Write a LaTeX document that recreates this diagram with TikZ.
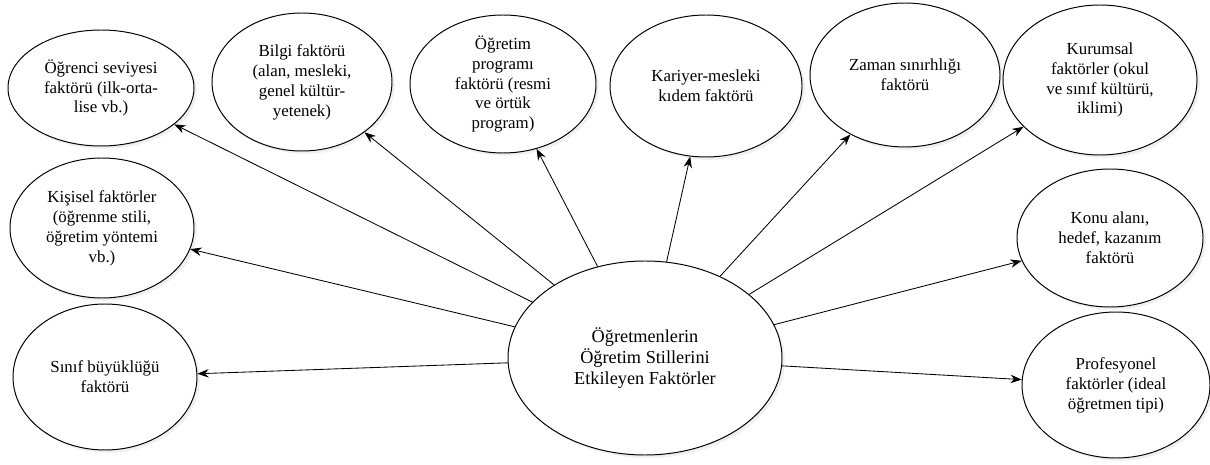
\documentclass[tikz,border=0pt]{standalone}
\usepackage{fontspec}
\setmainfont{Liberation Serif}
\newfontfamily\facfont{Liberation Serif}
\usepackage{tikz}
\usetikzlibrary{shapes,positioning,shadows,arrows.meta}
\tikzset{fac/.style={ellipse,draw,line width=0.7pt,fill=white,inner sep=0pt,align=center,
    font=\facfont\fontsize{12}{14.2}\selectfont,drop shadow={opacity=0.12,shadow xshift=2pt,shadow yshift=-2pt}}}
\tikzset{hub/.style={fac,font=\facfont\fontsize{13}{15}\selectfont}}

\begin{document}
\begin{tikzpicture}[>={Stealth[length=8pt,width=6pt]}]
    \useasboundingbox (0,0) rectangle (30.25,11.6);

    \node[fac,minimum width=4.65cm,minimum height=2.9cm] (ogr) at (2.525,9.4) {Öğrenci seviyesi\\faktörü (ilk-orta-\\lise vb.)};
    \node[fac,minimum width=4.5cm,minimum height=3.45cm] (bilgi) at (7.55,9.55) {Bilgi faktörü\\(alan, mesleki,\\genel kültür-\\yetenek)};
    \node[fac,minimum width=4.65cm,minimum height=3.45cm] (prog) at (12.575,9.5) {Öğretim\\programı\\faktörü (resmi\\ve örtük\\program)};
    \node[fac,minimum width=4.8cm,minimum height=3.55cm] (kariyer) at (17.65,9.45) {Kariyer-mesleki\\kıdem faktörü};
    \node[fac,minimum width=4.75cm,minimum height=3.6cm] (zaman) at (22.625,9.725) {Zaman sınırhlığı\\faktörü};
    \node[fac,minimum width=4.85cm,minimum height=3.75cm] (kurum) at (27.5,9.6) {Kurumsal\\faktörler (okul\\ve sınıf kültürü,\\iklimi)};

    \node[fac,minimum width=4.6cm,minimum height=3.5cm] (kisi) at (2.55,5.9) {Kişisel faktörler\\(öğrenme stili,\\öğretim yöntemi\\vb.)};
    \node[fac,minimum width=4.6cm,minimum height=3.65cm] (sinif) at (2.625,2.175) {Sınıf büyüklüğü\\faktörü};

    \node[hub,minimum width=6.85cm,minimum height=4.85cm] (mid) at (16.125,2.65) {Öğretmenlerin\\Öğretim Stillerini\\Etkileyen Faktörler};

    \node[fac,minimum width=4.65cm,minimum height=3.45cm] (konu) at (27.75,5.65) {Konu alanı,\\hedef, kazanım\\faktörü};
    \node[fac,minimum width=4.7cm,minimum height=3.65cm] (prof) at (27.9,1.975) {Profesyonel\\faktörler (ideal\\öğretmen tipi)};

    \draw [->,line width=0.6pt] (mid) to (ogr);
    \draw [->,line width=0.6pt] (mid) to (bilgi);
    \draw [->,line width=0.6pt] (mid) to (prog);
    \draw [->,line width=0.6pt] (mid) to (kariyer);
    \draw [->,line width=0.6pt] (mid) to (zaman);
    \draw [->,line width=0.6pt] (mid) to (kurum);
    \draw [->,line width=0.6pt] (mid) to (kisi);
    \draw [->,line width=0.6pt] (mid) to (sinif);
    \draw [->,line width=0.6pt] (mid) to (konu);
    \draw [->,line width=0.6pt] (mid) to (prof);
\end{tikzpicture}
\end{document}
